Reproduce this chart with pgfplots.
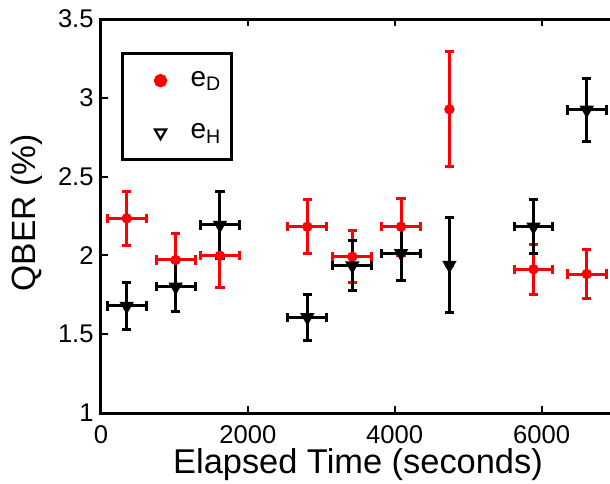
\documentclass[border=0pt]{standalone}
\usepackage{pgfplots}
\pgfplotsset{compat=1.18}
\usepackage{fontspec}
\setmainfont{Liberation Sans}

% QBER over elapsed time: x, y, x error, y error
\pgfplotstableread{
x     y      ex   ey
350   2.235  265  0.17
1017  1.971  265  0.165
1620  1.998  265  0.20
2810  2.182  265  0.17
3423  1.992  265  0.163
4086  2.182  265  0.18
4745  2.927  0    0.365
5890  1.912  265  0.16
6615  1.882  265  0.157
}\eD
\pgfplotstableread{
x     y      ex   ey
350   1.679  265  0.146
1017  1.801  265  0.16
1620  2.193  265  0.21
2810  1.607  265  0.146
3423  1.935  265  0.16
4086  2.013  265  0.17
4745  1.939  0    0.30
5890  2.182  265  0.17
6615  2.923  265  0.20
}\eH

\pgfplotsset{
    dlegend/.style={
        legend image code/.code={
            \path[draw=none] (0pt,0pt) -- (29pt,0pt);
            \draw[##1, only marks, mark size=2.6pt] plot coordinates {(16pt,0pt)};
        }
    },
    hlegend/.style={
        legend image code/.code={
            \path[draw=none] (0pt,0pt) -- (29pt,0pt);
            \draw[##1, only marks, mark=triangle*, mark size=3.2pt,
                mark options={draw=black, fill=white, rotate=180, line width=1.1pt}]
                plot coordinates {(16pt,0pt)};
        }
    },
}

\begin{document}
\begin{tikzpicture}
\begin{axis}[
    scale only axis,
    width=257pt,
    height=197pt,
    xmin=0, xmax=7000,
    ymin=1, ymax=3.5,
    xtick={0,2000,4000,6000},
    ytick={1,1.5,2,2.5,3,3.5},
    ytick pos=left,
    scaled x ticks=false,
    /pgf/number format/set thousands separator={},
    /pgf/number format/assume math mode=true,
    tick align=inside,
    major tick length=3.5pt,
    tick style={black, line width=1pt},
    axis line style={line width=1.5pt},
    ticklabel style={font=\fontsize{12.8}{12.8}\selectfont},
    xticklabel style={inner ysep=0pt, yshift=-6pt},
    yticklabel style={inner xsep=0pt, xshift=-3.5pt},
    xlabel={Elapsed Time (seconds)},
    ylabel={QBER (\%)},
    xlabel style={font=\fontsize{17.2}{17.2}\selectfont, at={(axis description cs:0.5,0)}, anchor=base, yshift=-30pt, inner sep=0pt},
    ylabel style={font=\fontsize{16.8}{16.8}\selectfont, at={(axis description cs:-0.128,0.508)}, anchor=base, inner sep=0pt},
    legend style={at={(axis description cs:0.039,0.916)}, anchor=north west,
        draw=black, line width=1.5pt, inner xsep=3pt, inner ysep=7pt,
        row sep=13pt, font=\fontsize{14}{14}\selectfont, cells={anchor=west}},
    legend cell align=left,
    clip=false,
]
\addplot+[only marks, dlegend, red, line width=1.5pt,
    mark=*, mark size=1.8pt, mark options={red, fill=red},
    error bars/.cd, x dir=both, x explicit, y dir=both, y explicit,
    error bar style={red, line width=1.5pt},
    error mark options={rotate=90, mark size=2.3pt, line width=1.5pt, red}]
    table[x=x, y=y, x error=ex, y error=ey] {\eD};
\addlegendentry{e\textsubscript{D}}
\addplot+[only marks, hlegend, black, line width=1.5pt,
    mark=triangle*, mark size=3.2pt, mark options={black, fill=black, rotate=180, line width=1pt},
    error bars/.cd, x dir=both, x explicit, y dir=both, y explicit,
    error bar style={black, line width=1.5pt},
    error mark options={rotate=90, mark size=2.3pt, line width=1.5pt, black}]
    table[x=x, y=y, x error=ex, y error=ey] {\eH};
\addlegendentry{e\textsubscript{H}}
\end{axis}
\pgfresetboundingbox
\path (-50.5pt,-35pt) rectangle (254.5pt,206.5pt);
\end{tikzpicture}
\end{document}
